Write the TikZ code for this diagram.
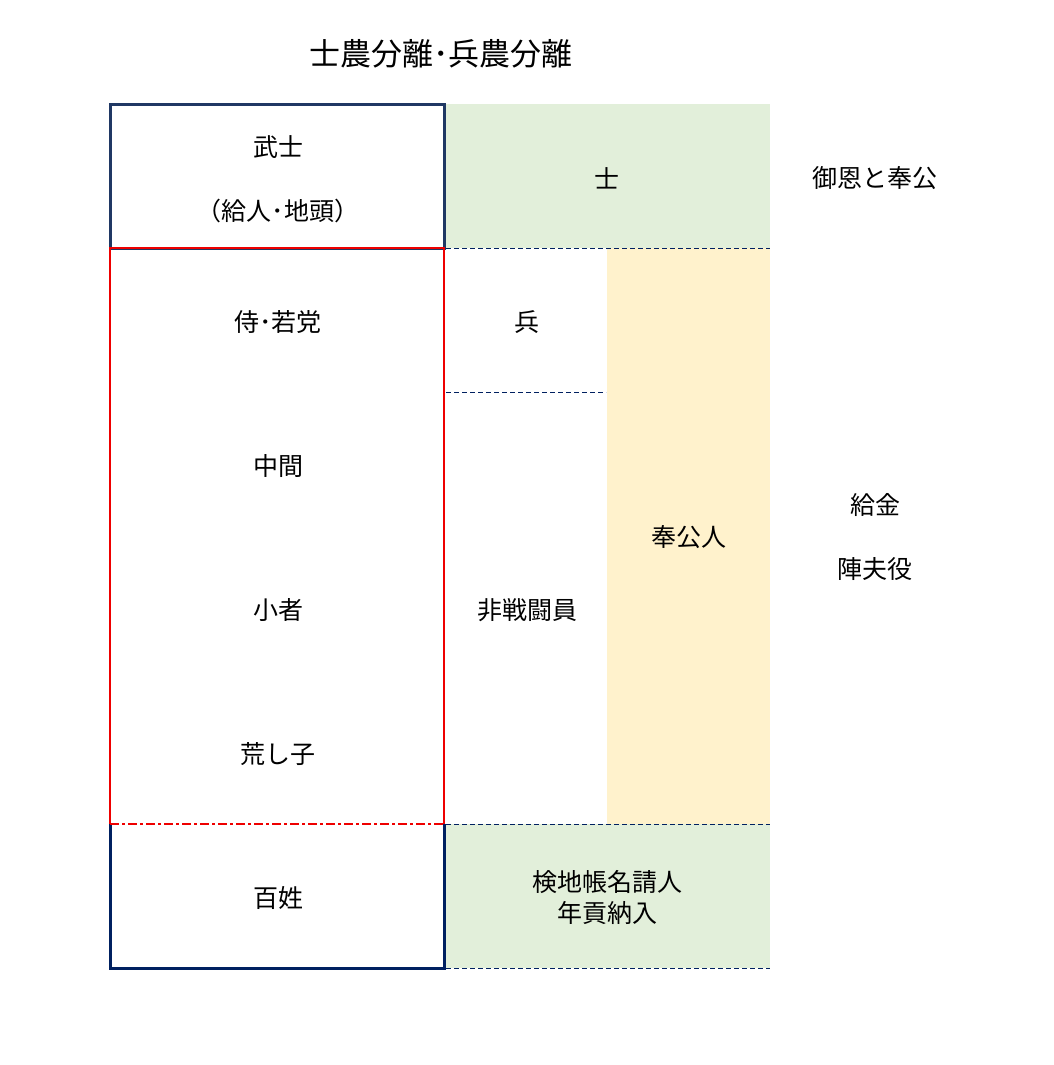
\documentclass[tikz,border=0pt]{standalone}
\usepackage{fontspec}
\setmainfont{Noto Sans CJK JP}
\usepackage{tikz}
\usetikzlibrary{positioning}
\definecolor{navyA}{HTML}{203864}
\definecolor{navyB}{HTML}{002060}
\definecolor{paleGreen}{HTML}{E2EFDA}
\definecolor{paleYellow}{HTML}{FFF2CC}
\definecolor{lineRed}{HTML}{EE0000}
\tikzset{
  label/.style={font=\fontsize{25}{31}\selectfont,align=center,inner sep=0pt},
  sepline/.style={navyB,line width=0.9pt,dash pattern=on 5pt off 3pt}
}

\begin{document}
\begin{tikzpicture}[x=1pt,y=-1pt]
 \useasboundingbox (0,0) rectangle (1053,1065);
 % coloured bands
 \fill[paleGreen] (446,104) rectangle (770,248);
 \fill[paleYellow] (607,248) rectangle (770,824);
 \fill[paleGreen] (446,824) rectangle (770,968);
 \draw[sepline] (446,248) -- (770,248);
 \draw[sepline] (446,392) -- (606,392);
 \draw[sepline] (446,824) -- (770,824);
 \draw[sepline] (446,968) -- (770,968);
 % left column
 \draw[navyA,line width=3pt] (110,104) rectangle (444,248);
 \draw[navyB,line width=3pt] (110,824) -- (110,968) -- (444,968) -- (444,824);
 \draw[lineRed,line width=2.6pt] (110,824) -- (110,248) -- (444,248) -- (444,824);
 \draw[lineRed,line width=1.6pt,dash pattern=on 9pt off 3pt on 3pt off 3pt] (110,824) -- (444,824);
 % texts
 \node[label,font=\fontsize{31}{36}\selectfont] (title) at (441,54) {士農分離･兵農分離};
 \node[label] (bushi) at (278,147) {武士};
 \node[label] (kyunin) at (278,211) {（給人･地頭）};
 \node[label] (shi) at (607,178) {士};
 \node[label] (goon) at (875,178) {御恩と奉公};
 \node[label] (samurai) at (278,322) {侍･若党};
 \node[label] (hei) at (527,322) {兵};
 \node[label] (chugen) at (278,466) {中間};
 \node[label] (hokonin) at (689,537) {奉公人};
 \node[label] (kyukin) at (875,505) {給金};
 \node[label] (jinbu) at (875,569) {陣夫役};
 \node[label] (komono) at (278,610) {小者};
 \node[label] (hisento) at (527,610) {非戦闘員};
 \node[label] (arashiko) at (278,754) {荒し子};
 \node[label] (hyakusho) at (278,898) {百姓};
 \node[label,font=\fontsize{25}{31}\selectfont] (kenchi) at (607,897) {検地帳名請人\\年貢納入};
\end{tikzpicture}
\end{document}
